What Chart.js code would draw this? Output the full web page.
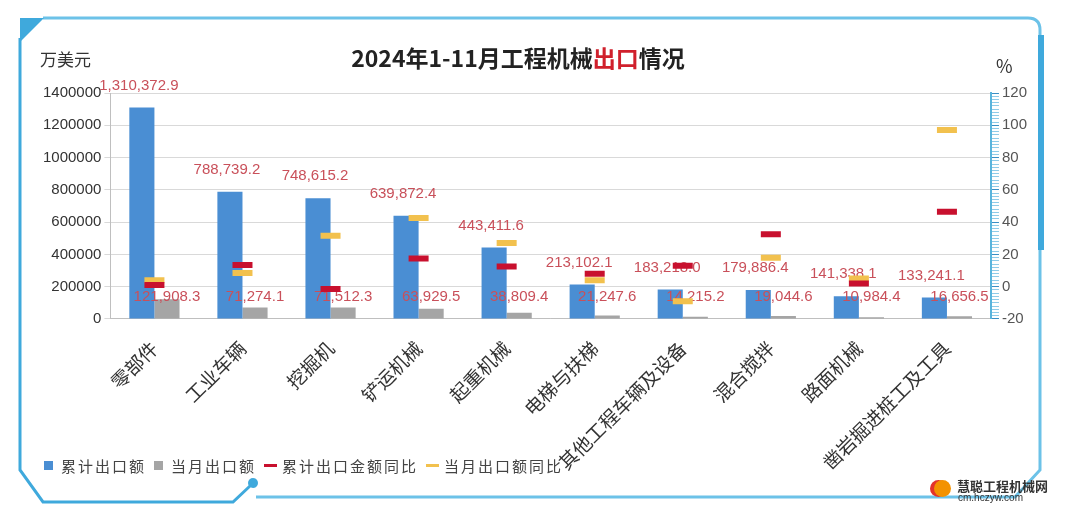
<!DOCTYPE html>
<html>
<head>
<meta charset="utf-8">
<script src="https://cdn.jsdelivr.net/npm/chart.js@4"></script>
<style>
  body { margin: 0; width: 1070px; height: 514px; background: #fff; position: relative; overflow: hidden; font-family: "Noto Sans CJK SC", sans-serif; }
  #marco { position: absolute; left: 0; top: 0; }
  #lienzo { position: absolute; left: 0; top: 0; }
  #titulo { position: absolute; left: 0; width: 1036px; top: 40px; text-align: center; font-size: 23px; font-weight: bold; color: #222; }
  #titulo span { color: #d0202c; }
  .eje { position: absolute; color: #333; font-size: 17px; }
  #leyenda { position: absolute; left: 44px; top: 455px; font-size: 15px; color: #444; letter-spacing: 2px; display: flex; align-items: center; }
  #leyenda .item { display: flex; align-items: center; margin-right: 8px; }
  #leyenda .caja { width: 9px; height: 9px; margin-right: 8px; }
  #leyenda .raya { width: 13px; height: 3px; margin-right: 5px; }
  #logo { position: absolute; left: 934px; top: 478px; }
  #logo .bola { position: absolute; left: 0; top: 2px; width: 17px; height: 17px; border-radius: 50%; background: #f39200; box-shadow: -4px 0 0 #e4322b; }
  #logo .nom { position: absolute; left: 23px; top: -2px; font-size: 13px; font-weight: bold; color: #333; white-space: nowrap; }
  #logo .url { position: absolute; left: 24px; top: 14px; font-size: 10px; color: #333; font-family: "Liberation Sans"; white-space: nowrap; }
</style>
</head>
<body>
<svg id="marco" width="1070" height="514">
  <path d="M43,18 L1028,18 Q1040,18 1040,30 L1040,470 L1015,497 L256,497" fill="none" stroke="#6cc2e8" stroke-width="3"/>
  <path d="M20,38 L20,470 L43,502 L233,502 L250,486" fill="none" stroke="#3fa9dc" stroke-width="3"/>
  <path d="M20,18 L44,18 L20,42 Z" fill="#3fa9dc"/>
  <path d="M1041,35 L1041,250" stroke="#3fa9dc" stroke-width="6"/>
  <circle cx="253" cy="483" r="5" fill="#3fa9dc"/>
</svg>
<canvas id="lienzo" width="1070" height="514"></canvas>
<div id="titulo">2024年1-11月工程机械<span>出口</span>情况</div>
<div class="eje" style="left:40px; top:46px;">万美元</div>
<div class="eje" style="left:996px; top:52px; font-size:18px;">%</div>
<div id="leyenda"></div>
<div id="logo"><div class="bola"></div><div class="nom">慧聪工程机械网</div><div class="url">cm.hczyw.com</div></div>
<script>
// categorías y valores (万美元 / %)
const categorias = ["零部件", "工业车辆", "挖掘机", "铲运机械", "起重机械", "电梯与扶梯", "其他工程车辆及设备", "混合搅拌", "路面机械", "凿岩掘进桩工及工具"];
const acumulado = [1310372.9, 788739.2, 748615.2, 639872.4, 443411.6, 213102.1, 183218.0, 179886.4, 141338.1, 133241.1];
const mensual = [121908.3, 71274.1, 71512.3, 63929.5, 38809.4, 21247.6, 14215.2, 19044.6, 10984.4, 16656.5];
const acumuladoYoY = [1, 13.5, -1.5, 17.5, 12.5, 8, 13, 32.5, 2, 46.5];
const mensualYoY = [4, 8.5, 31.5, 42.5, 27, 4, -9, 18, 5, 97];
const series = ["累计出口额", "当月出口额", "累计出口金额同比", "当月出口额同比"];

const AZUL = "#4a8ed3";
const GRIS = "#a5a5a5";
const ROJO = "#c8102e";
const AMARILLO = "#f2c14e";

function fmt(v) {
  return v.toLocaleString("en-US", { minimumFractionDigits: 1, maximumFractionDigits: 1 });
}

// etiquetas de valores, dibujadas antes de los marcadores
const etiquetas = {
  id: "etiquetas",
  afterDatasetDraw(chart, args) {
    if (args.index !== 0) return;
    const ctx = chart.ctx;
    const base = chart.scales.y.getPixelForValue(0);
    ctx.save();
    ctx.font = '15px "Liberation Sans"';
    ctx.fillStyle = "#c9505a";
    ctx.textAlign = "center";
    ctx.textBaseline = "middle";
    chart.getDatasetMeta(0).data.forEach((bar, i) => ctx.fillText(fmt(acumulado[i]), bar.x - 3, bar.y - 22));
    chart.getDatasetMeta(1).data.forEach((bar, i) => ctx.fillText(fmt(mensual[i]), bar.x, base - 22));
    ctx.restore();
  }
};

new Chart(document.getElementById("lienzo"), {
  type: "bar",
  data: {
    labels: categorias,
    datasets: [
      { label: series[0], data: acumulado, backgroundColor: AZUL, yAxisID: "y", order: 2, categoryPercentage: 0.57, barPercentage: 1 },
      { label: series[1], data: mensual, backgroundColor: GRIS, yAxisID: "y", order: 2, categoryPercentage: 0.57, barPercentage: 1 },
      { type: "line", label: series[2], data: acumuladoYoY, yAxisID: "y1", order: 1, showLine: false,
        pointStyle: "line", pointRadius: 10, pointBorderWidth: 6, borderColor: ROJO, backgroundColor: ROJO },
      { type: "line", label: series[3], data: mensualYoY, yAxisID: "y1", order: 1, showLine: false,
        pointStyle: "line", pointRadius: 10, pointBorderWidth: 6, borderColor: AMARILLO, backgroundColor: AMARILLO }
    ]
  },
  options: {
    responsive: false,
    animation: false,
    layout: { padding: { left: 40, right: 40, top: 93, bottom: 30 } },
    plugins: { legend: { display: false }, tooltip: { enabled: false } },
    scales: {
      x: {
        grid: { display: false },
        border: { color: "#bfbfbf" },
        ticks: { color: "#333", font: { size: 19, family: "Noto Sans CJK SC" }, maxRotation: 45, minRotation: 45, padding: 10, autoSkip: false }
      },
      y: {
        position: "left",
        min: 0,
        max: 1400000,
        border: { color: "#bfbfbf" },
        grid: { color: "#d9d9d9", tickLength: 6 },
        ticks: { stepSize: 200000, color: "#333", font: { size: 15, family: "Liberation Sans" }, callback: (v) => String(v) }
      },
      y1: {
        position: "right",
        min: -20,
        max: 120,
        border: { color: "#5ab4dc", width: 2 },
        grid: {
          drawOnChartArea: false,
          tickLength: 8,
          tickColor: (c) => (c.tick && c.tick.value % 20 === 0 ? "#3b8fc4" : "#8fcbe8")
        },
        ticks: {
          stepSize: 2,
          maxTicksLimit: 100,
          autoSkip: false,
          color: "#555",
          font: { size: 15, family: "Liberation Sans" },
          callback: (v) => (v % 20 === 0 ? String(v) : "")
        }
      }
    }
  },
  plugins: [etiquetas]
});

// leyenda
const leyenda = document.getElementById("leyenda");
const marcas = [["caja", AZUL], ["caja", GRIS], ["raya", ROJO], ["raya", AMARILLO]];
series.forEach((nombre, i) => {
  const item = document.createElement("div");
  item.className = "item";
  item.innerHTML = `<div class="${marcas[i][0]}" style="background:${marcas[i][1]}"></div>${nombre}`;
  leyenda.appendChild(item);
});
</script>
</body>
</html>
